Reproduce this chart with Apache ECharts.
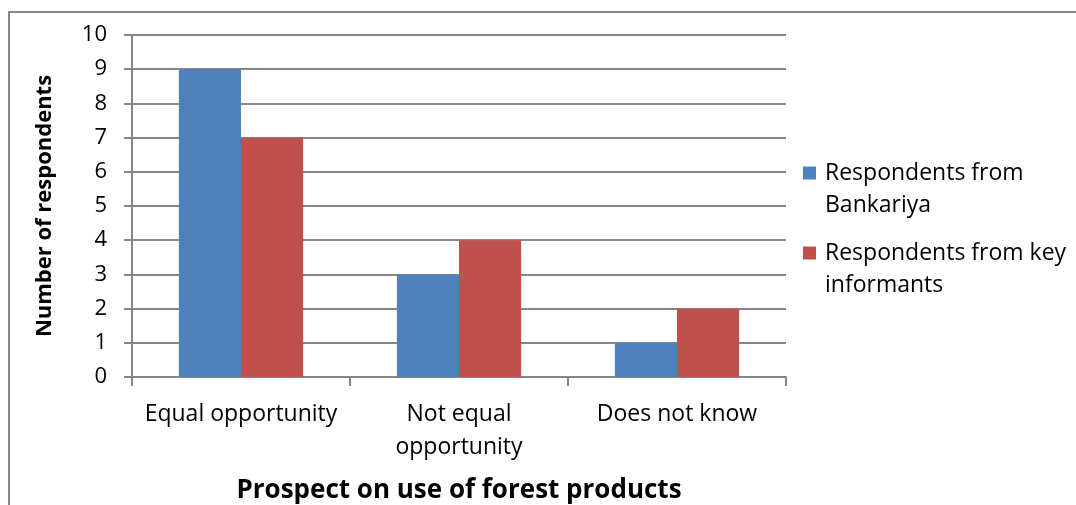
<!DOCTYPE html>
<html>
<head>
<meta charset="utf-8">
<script src="https://cdn.jsdelivr.net/npm/echarts@6/dist/echarts.min.js"></script>
<style>
  html, body { margin: 0; padding: 0; background: #fff; overflow: hidden; }
  #chart { width: 1076px; height: 505px; }
</style>
</head>
<body>
<div id="chart"></div>
<script>
// Survey answers: prospect on use of forest products
const categories = ['Equal opportunity', 'Not equal\nopportunity', 'Does not know'];
const seriesNames = ['Respondents from Bankariya', 'Respondents from key informants'];
const legendLines = ['Respondents from\nBankariya', 'Respondents from key\ninformants'];
const bankariya = [9, 3, 1];
const keyInformants = [7, 4, 2];
const yTicks = [0, 1, 2, 3, 4, 5, 6, 7, 8, 9, 10];

const FONT = '"Open Sans", Lato, sans-serif';
const GRAY = '#868686';

const chart = echarts.init(document.getElementById('chart'), null, { renderer: 'canvas', width: 1076, height: 505 });

chart.setOption({
  animation: false,
  backgroundColor: '#fff',
  graphic: [{
    type: 'rect',
    shape: { x: 9, y: 12, width: 1200, height: 700 },
    style: { fill: 'none', stroke: GRAY, lineWidth: 2 },
    silent: true
  }],
  grid: { left: 132, right: 290, top: 35, bottom: 128, containLabel: false, outerBoundsMode: 'none' },
  legend: {
    orient: 'vertical',
    left: 803,
    top: 125,
    padding: 0,
    itemWidth: 13,
    itemHeight: 13,
    itemGap: -16,
    icon: 'rect',
    data: seriesNames,
    // leading blank line keeps the swatch level with the first line of text
    formatter: name => '\n' + legendLines[seriesNames.indexOf(name)],
    textStyle: {
      fontFamily: FONT,
      fontSize: 23,
      color: '#000',
      lineHeight: 32,
      padding: [0, 0, 0, 4]
    }
  },
  xAxis: {
    type: 'category',
    data: categories,
    name: 'Prospect on use of forest products',
    nameLocation: 'middle',
    nameGap: 101,
    nameTextStyle: { fontFamily: FONT, fontSize: 26, fontWeight: 'bold', color: '#000' },
    axisLine: { lineStyle: { color: GRAY, width: 2 } },
    axisTick: { show: true, length: 9, lineStyle: { color: GRAY, width: 2 } },
    axisLabel: {
      fontFamily: FONT, fontSize: 23, color: '#000', margin: 21, lineHeight: 33,
      verticalAlign: 'top', interval: 0
    }
  },
  yAxis: {
    type: 'value',
    min: yTicks[0],
    max: yTicks[yTicks.length - 1],
    interval: 1,
    name: 'Number of respondents',
    nameLocation: 'middle',
    nameRotate: 90,
    nameGap: 76,
    nameTextStyle: { fontFamily: FONT, fontSize: 22, fontWeight: 'bold', color: '#000' },
    axisLine: { show: true, lineStyle: { color: GRAY, width: 2 } },
    axisTick: { show: true, length: 8, lineStyle: { color: GRAY, width: 2 } },
    axisLabel: { fontFamily: FONT, fontSize: 22, color: '#000', margin: 25 },
    splitLine: { show: true, lineStyle: { color: GRAY, width: 2 } }
  },
  series: [
    {
      name: seriesNames[0],
      type: 'bar',
      data: bankariya,
      itemStyle: { color: '#4F81BD' },
      barGap: '0%',
      barCategoryGap: '43%'
    },
    {
      name: seriesNames[1],
      type: 'bar',
      data: keyInformants,
      itemStyle: { color: '#C0504D' },
      barGap: '0%',
      barCategoryGap: '43%'
    }
  ]
});
</script>
</body>
</html>
